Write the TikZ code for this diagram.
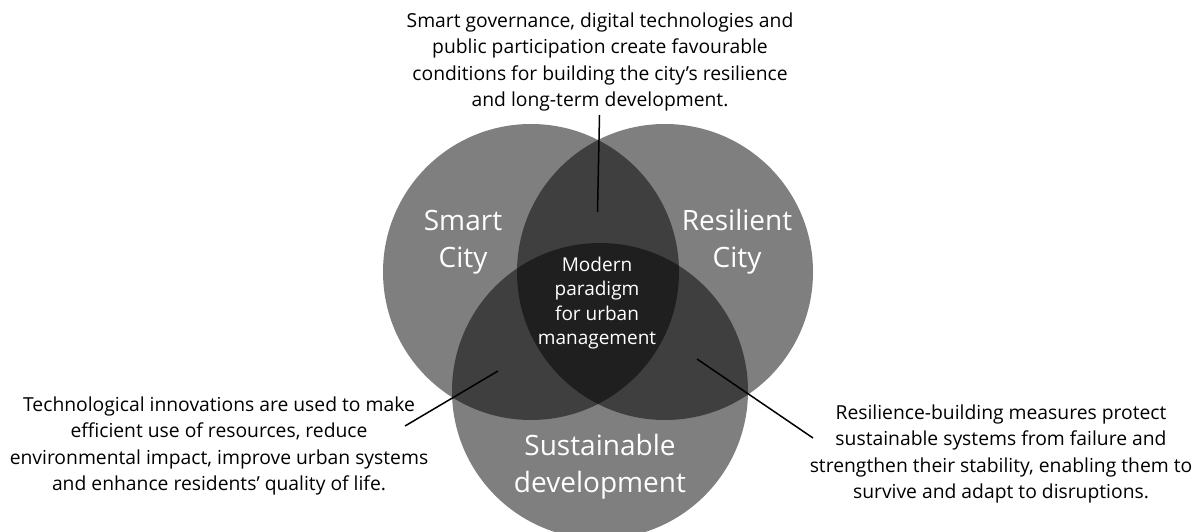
\documentclass[tikz,border=0pt]{standalone}
\usepackage{fontspec}
\setmainfont{Open Sans}
\begin{document}
\begin{tikzpicture}[x=1pt,y=-1pt,
  venn/.style={fill=black,fill opacity=0.5,draw=none},
  note/.style={align=center,text=black,font=\fontsize{19.3}{26.5}\selectfont,inner sep=0pt},
  big/.style={align=center,text=white,font=\fontsize{28}{37}\selectfont,inner sep=0pt},
  mid/.style={align=center,text=white,font=\fontsize{19}{24.5}\selectfont,inner sep=0pt},
  conn/.style={draw=black,line width=1.5pt}]
\useasboundingbox[fill=white] (0,0) rectangle (1198,532);
\fill[venn] (531,272) circle (148);
\fill[venn] (665,272) circle (148);
\fill[venn] (600,391) circle (148);
\node[big] (smart) at (463,242) {Smart\\City};
\node[big] (resil) at (737,242) {Resilient\\City};
\node[big] (sust) at (600,467) {Sustainable\\development};
\node[mid] (core) at (597,303) {Modern\\paradigm\\for urban\\management};
\node[note] (top) at (600,62) {Smart governance, digital technologies and\\public participation create favourable\\conditions for building the city’s resilience\\and long-term development.};
\node[note] (left) at (219,446) {Technological innovations are used to make\\efficient use of resources, reduce\\environmental impact, improve urban systems\\and enhance residents’ quality of life.};
\node[note] (right) at (1001,454) {Resilience-building measures protect\\sustainable systems from failure and\\strengthen their stability, enabling them to\\survive and adapt to disruptions.};
\coordinate (ta) at (599.5,115);
\coordinate (tb) at (597.5,212);
\coordinate (la) at (498,371);
\coordinate (lb) at (405,426);
\coordinate (ra) at (697,359);
\coordinate (rb) at (813,438);
\draw[conn] (ta) -- (tb);
\draw[conn] (la) -- (lb);
\draw[conn] (ra) -- (rb);
\end{tikzpicture}
\end{document}
